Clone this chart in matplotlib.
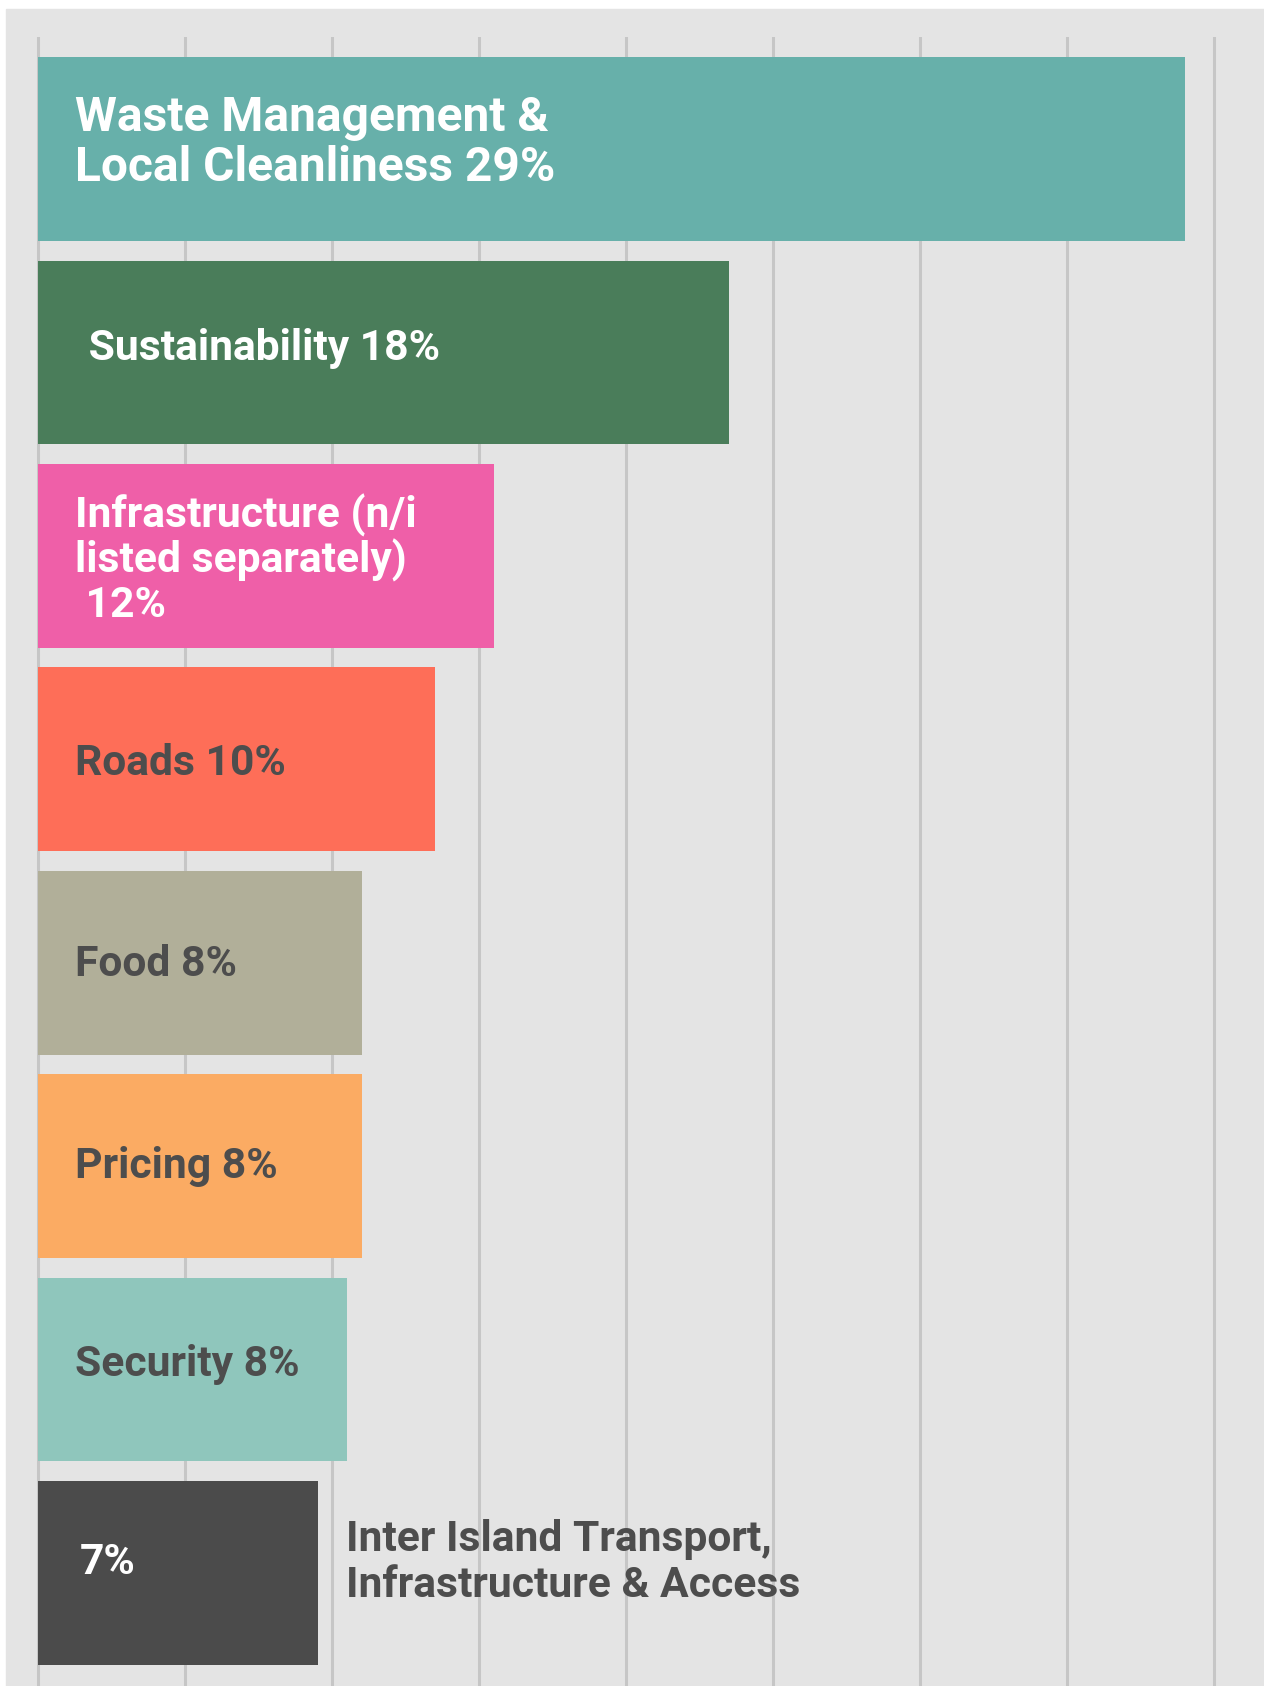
"""Horizontal bar chart of survey topics."""

import matplotlib

matplotlib.use("Agg")

import matplotlib.pyplot as plt
from matplotlib.patches import Rectangle

# responses per topic (bar lengths), top to bottom
labels = [
    "Waste Management &\nLocal Cleanliness 29%",
    " Sustainability 18%",
    "Infrastructure (n/i\nlisted separately)\n 12%",
    "Roads 10%",
    "Food 8%",
    "Pricing 8%",
    "Security 8%",
    "7%",
]
counts = [78, 47, 31, 27, 22, 22, 21, 19]
outside_label = "Inter Island Transport,\nInfrastructure & Access"

colors = ["#67b0aa", "#4a7d5a", "#ef5fa8", "#fe6e58",
          "#b1af99", "#fbab63", "#8fc6bc", "#4b4b4b"]
text_colors = ["white", "white", "white", "#4d4d4d",
               "#4d4d4d", "#4d4d4d", "#4d4d4d", "white"]
font_sizes = [34.5, 30.7, 30.7, 30.7, 30.7, 30.7, 30.7, 30.7]
line_gaps = [1.13, 1.0, 1.07, 1.0, 1.0, 1.0, 1.0, 1.0]
label_x = [2.5, 2.7, 2.5, 2.5, 2.5, 2.5, 2.5, 2.8]
label_dy = [-0.03, -0.02, 0.018, 0.02, 0.01, 0.0, -0.025, -0.05]

BG = "#e4e4e4"
DARK = "#4d4d4d"

plt.rcParams["font.family"] = ["Roboto", "DejaVu Sans"]

fig = plt.figure(figsize=(12.64, 16.86), dpi=100)
fig.add_artist(Rectangle((6 / 1264, 0), 1, 1 - 9 / 1686,
                         transform=fig.transFigure, color=BG, zorder=-5))

ax = fig.add_axes([6 / 1264, 0, 1258 / 1264, 1649 / 1686])
ax.set_facecolor(BG)

pos = list(range(len(counts)))
ax.barh(pos, counts, height=0.903, color=colors, zorder=2)

for i, label in enumerate(labels):
    ax.text(label_x[i], i + label_dy[i], label, color=text_colors[i],
            fontsize=font_sizes[i], fontweight="bold", va="center",
            ha="left", linespacing=line_gaps[i], zorder=3)

ax.text(counts[-1] + 1.9, pos[-1] - 0.05, outside_label, color=DARK,
        fontsize=30.7, fontweight="bold", va="center", ha="left",
        linespacing=1.15, zorder=3)

ax.set_xlim(-2.21, 83.37)
ax.set_ylim(7.556, -0.551)
ax.set_xticks(range(0, 81, 10))
ax.set_yticks([])
ax.xaxis.grid(True, color="#c6c6c6", linewidth=2.2)
ax.set_axisbelow(True)
ax.tick_params(length=0, labelbottom=False)
for spine in ax.spines.values():
    spine.set_visible(False)

fig.savefig("out.png", dpi=100, facecolor="white")
plt.close(fig)
